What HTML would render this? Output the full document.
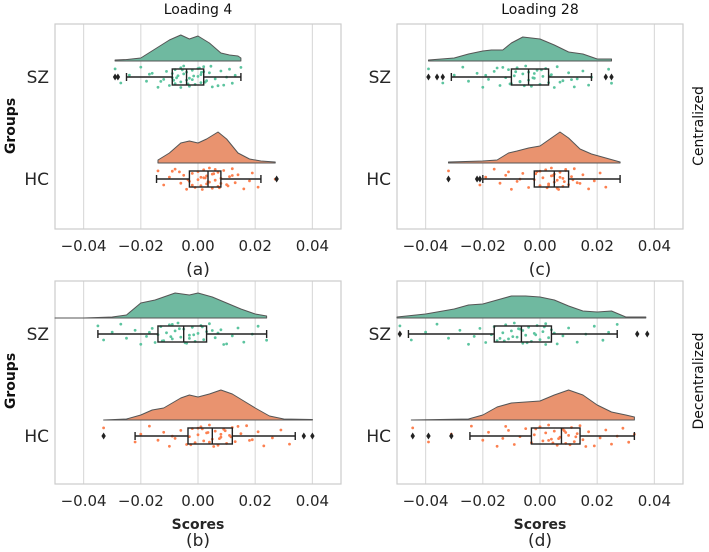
<!DOCTYPE html>
<html><head><meta charset="utf-8">
<style>
body{margin:0;background:#fff;width:709px;height:552px;overflow:hidden}
svg{display:block;font-family:"DejaVu Sans","Liberation Sans",sans-serif}
</style></head>
<body>
<svg id="fig" width="709" height="552" viewBox="0 0 709 552"></svg>
<script>
// ---- data ----
const tickValues = [-0.04, -0.02, 0.00, 0.02, 0.04];
const tickLabels = ["\u22120.04", "\u22120.02", "0.00", "0.02", "0.04"];
const groups = ["SZ", "HC"];

// density curves (grid x values / density heights)
const aSzX = [-0.029,-0.025,-0.02,-0.015,-0.01,-0.006,-0.003,0,0.004,0.008,0.011,0.014,0.015];
const aSzD = [1,1.5,3,12,21,26,22,25,18,8,6,5,3];
const aHcX = [-0.014,-0.01,-0.006,-0.003,0,0.003,0.007,0.01,0.014,0.018,0.022,0.027];
const aHcD = [3,10,20,22,20,24,31,24,10,4,2,1];
const cSzX = [-0.039,-0.03,-0.025,-0.02,-0.017,-0.013,-0.01,-0.006,0,0.005,0.01,0.015,0.02,0.025];
const cSzD = [1,3,7,10,11,11,18,24,22,16,9,7,2,2];
const cHcX = [-0.032,-0.02,-0.015,-0.011,-0.008,-0.004,0,0.004,0.007,0.01,0.014,0.018,0.023,0.028];
const cHcD = [1,2,3,10,12,15,17,25,31,25,14,9,5,1];
const bSzX = [-0.05,-0.04,-0.03,-0.025,-0.02,-0.015,-0.008,-0.003,0,0.005,0.01,0.015,0.02,0.024];
const bSzD = [0,0,1,3,15,18,25,23,25,21,15,9,4,2];
const bHcX = [-0.033,-0.025,-0.02,-0.016,-0.012,-0.006,-0.003,0,0.004,0.008,0.012,0.016,0.02,0.025,0.03,0.04];
const bHcD = [0,1,5,10,12,22,25,23,26,30,26,19,12,4,1,0.5];
const dSzX = [-0.05,-0.04,-0.03,-0.025,-0.02,-0.015,-0.01,-0.005,0,0.005,0.01,0.015,0.02,0.025,0.03,0.037];
const dSzD = [1,4,9,13,14,18,22,22,21,18,12,7,6,7,1,1];
const dHcX = [-0.045,-0.035,-0.025,-0.02,-0.015,-0.01,-0.005,0,0.005,0.01,0.015,0.02,0.025,0.03,0.033];
const dHcD = [0,0.5,1,5,13,17,18,19,25,30,25,15,8,5,3];

// box stats: [whiskerLow, q1, median, q3, whiskerHigh]
const aSzBox = [-0.025,-0.009,-0.004,0.002,0.015];
const aHcBox = [-0.0145,-0.003,0.0035,0.008,0.022];
const cSzBox = [-0.031,-0.010,-0.004,0.003,0.018];
const cHcBox = [-0.020,-0.002,0.005,0.010,0.028];
const bSzBox = [-0.035,-0.014,-0.005,0.003,0.024];
const bHcBox = [-0.022,-0.0035,0.005,0.012,0.034];
const dSzBox = [-0.046,-0.016,-0.0065,0.004,0.027];
const dHcBox = [-0.0245,-0.003,0.0075,0.014,0.033];

// outliers
const aSzOut = [-0.029,-0.028];
const aHcOut = [0.0275];
const cSzOut = [-0.039,-0.036,-0.034,0.023,0.025];
const cHcOut = [-0.032,-0.022,-0.021];
const bSzOut = [];
const bHcOut = [-0.033,0.037,0.040];
const dSzOut = [-0.049,0.034,0.0375];
const dHcOut = [-0.0445,-0.039,-0.031];

// raw points (scores)
const aSzPts = [-0.029,-0.027,-0.024,-0.02,-0.018,-0.016,-0.014,-0.012,-0.011,-0.01,-0.009,-0.008,-0.008,-0.007,-0.006,-0.006,-0.005,-0.005,-0.004,-0.004,-0.003,-0.003,-0.002,-0.001,0,0,0.001,0.001,0.002,0.003,0.004,0.005,0.006,0.008,0.009,0.01,0.011,0.012,0.013,0.015,-0.013,-0.009,-0.006,-0.002,0.002,0.007,-0.0075,-0.0055,-0.0035,-0.0015,0.0005,0.0025,-0.017,0.0045,-0.0085,0.0012];
const aHcPts = [-0.014,-0.012,-0.01,-0.008,-0.006,-0.005,-0.004,-0.003,-0.002,-0.001,0,0,0.001,0.002,0.002,0.003,0.003,0.004,0.004,0.005,0.005,0.006,0.007,0.007,0.008,0.009,0.01,0.011,0.012,0.013,0.014,0.016,0.018,0.019,0.021,0.027,-0.009,-0.002,0.001,0.006,0.008,0.012,0.0015,0.0035,0.0055,0.0075,-0.0035,-0.0065,0.0105,0.0025];
const cSzPts = [-0.039,-0.034,-0.03,-0.027,-0.025,-0.022,-0.02,-0.018,-0.016,-0.014,-0.012,-0.011,-0.01,-0.009,-0.008,-0.007,-0.006,-0.005,-0.004,-0.004,-0.003,-0.002,-0.001,0,0.001,0.002,0.003,0.004,0.006,0.008,0.01,0.012,0.013,0.015,0.017,0.018,0.024,0.025,-0.019,-0.013,-0.007,-0.002,0.005,0.011,-0.0085,-0.0055,-0.0025,0.0005,-0.0105,0.0035,-0.015,0.007];
const cHcPts = [-0.032,-0.021,-0.019,-0.016,-0.014,-0.012,-0.01,-0.008,-0.006,-0.004,-0.002,-0.001,0,0.001,0.002,0.003,0.004,0.004,0.005,0.005,0.006,0.006,0.007,0.008,0.008,0.009,0.01,0.011,0.012,0.013,0.015,0.017,0.019,0.021,0.023,-0.007,0.0,0.003,0.007,0.009,0.014,0.0045,0.0065,0.0085,-0.0015,0.0025,0.0115,-0.011];
const bSzPts = [-0.035,-0.033,-0.03,-0.027,-0.025,-0.022,-0.02,-0.018,-0.016,-0.015,-0.014,-0.013,-0.012,-0.011,-0.01,-0.009,-0.008,-0.007,-0.006,-0.005,-0.004,-0.003,-0.002,-0.001,0,0.001,0.002,0.003,0.004,0.006,0.008,0.01,0.012,0.014,0.016,0.019,0.021,0.024,-0.017,-0.009,-0.003,0.005,0.009,-0.0095,-0.0065,-0.0045,-0.0015,0.0015,-0.0125,0.007];
const bHcPts = [-0.033,-0.022,-0.02,-0.017,-0.014,-0.012,-0.01,-0.008,-0.006,-0.004,-0.003,-0.002,-0.001,0,0.001,0.002,0.003,0.004,0.005,0.006,0.007,0.008,0.009,0.01,0.011,0.012,0.013,0.015,0.017,0.019,0.021,0.023,0.026,0.029,0.032,-0.009,0.0,0.004,0.008,0.014,0.018,0.0035,0.0055,0.0075,0.0095,-0.0025,0.0115,0.0015];
const dSzPts = [-0.049,-0.045,-0.04,-0.036,-0.032,-0.028,-0.025,-0.023,-0.021,-0.019,-0.017,-0.016,-0.015,-0.013,-0.012,-0.011,-0.01,-0.009,-0.008,-0.007,-0.006,-0.005,-0.004,-0.003,-0.002,-0.001,0,0.001,0.002,0.003,0.004,0.006,0.008,0.01,0.013,0.016,0.019,0.022,0.024,0.027,-0.014,-0.006,0.002,-0.0095,-0.0075,-0.0045,-0.0015,0.0015,-0.0125,0.005];
const dHcPts = [-0.0445,-0.039,-0.031,-0.024,-0.02,-0.018,-0.015,-0.013,-0.011,-0.009,-0.007,-0.005,-0.003,-0.002,0,0.001,0.002,0.003,0.004,0.005,0.006,0.007,0.008,0.009,0.01,0.011,0.012,0.013,0.014,0.015,0.017,0.019,0.021,0.023,0.025,0.027,0.029,0.031,0.033,-0.012,0.003,0.009,0.016,0.0065,0.0085,0.0105,0.0125,-0.0015,0.0045];

// ---- drawing ----
const NS = "http://www.w3.org/2000/svg";
const svg = document.getElementById("fig");
function mk(tag, attrs, parent, name, inter) {
  const e = document.createElementNS(NS, tag);
  for (const k in attrs) e.setAttribute(k, attrs[k]);
  
  
  (parent || svg).appendChild(e);
  return e;
}
const XMIN = -0.05, XMAX = 0.05;
const panels = [
  {id:"a", x0:55, x1:341, y0:24, y1:229, sz:[aSzX,aSzD,aSzBox,aSzOut,aSzPts], hc:[aHcX,aHcD,aHcBox,aHcOut,aHcPts]},
  {id:"c", x0:397, x1:683, y0:24, y1:229, sz:[cSzX,cSzD,cSzBox,cSzOut,cSzPts], hc:[cHcX,cHcD,cHcBox,cHcOut,cHcPts]},
  {id:"b", x0:55, x1:341, y0:281, y1:484, sz:[bSzX,bSzD,bSzBox,bSzOut,bSzPts], hc:[bHcX,bHcD,bHcBox,bHcOut,bHcPts]},
  {id:"d", x0:397, x1:683, y0:281, y1:484, sz:[dSzX,dSzD,dSzBox,dSzOut,dSzPts], hc:[dHcX,dHcD,dHcBox,dHcOut,dHcPts]}
];
const fills = {SZ:"#6fb9a0", HC:"#e9936f"};
const ptCol = {SZ:"#5cc49f", HC:"#fc8050"};

panels.forEach(p => {
  const g = mk("g", {}, svg, "panel-" + p.id, false);
  const xs = v => p.x0 + (v - XMIN) / (XMAX - XMIN) * (p.x1 - p.x0);
  const rows = {SZ: p.y0 + 53, HC: p.y0 + 155};
  tickValues.forEach((t, i) => {
    mk("line", {x1:xs(t), x2:xs(t), y1:p.y0, y2:p.y1, stroke:"#dcdcdc", "stroke-width":1.2}, g, "grid-line", false);
    const tl = mk("text", {x:xs(t), y:p.y1 + 22, "text-anchor":"middle", "font-size":15, fill:"#262626"}, g, "x-tick-label", false);
    tl.textContent = tickLabels[i];
  });
  mk("rect", {x:p.x0, y:p.y0, width:p.x1 - p.x0, height:p.y1 - p.y0, fill:"none", stroke:"#cccccc", "stroke-width":1.2}, g, "plot-frame", false);
  groups.forEach(gr => {
    const t = mk("text", {x:p.x0 - 6, y:rows[gr] + 6, "text-anchor":"end", "font-size":17, fill:"#262626"}, g, "y-tick-label-" + gr.toLowerCase(), false);
    t.textContent = gr;
  });
  [["SZ", p.sz], ["HC", p.hc]].forEach(([gr, d]) => {
    const [dx, dd, box, out, pts] = d;
    const base = rows[gr] - 16;
    let path = "M" + xs(dx[0]) + "," + base;
    dx.forEach((v, i) => { path += " L" + xs(v).toFixed(1) + "," + (base - dd[i]).toFixed(1); });
    path += " L" + xs(dx[dx.length - 1]) + "," + base + " Z";
    mk("path", {d:path, fill:fills[gr], stroke:"#555", "stroke-width":1, "stroke-linejoin":"round"}, g, "density-" + gr.toLowerCase(), false);
    pts.forEach((v, i) => {
      const jy = rows[gr] + (((i * 7919 + 13) % 97) / 97 * 22 - 11);
      mk("circle", {cx:xs(v).toFixed(1), cy:jy.toFixed(1), r:1.4, fill:ptCol[gr]}, g, "point-" + gr.toLowerCase(), false);
    });
    const y = rows[gr];
    mk("line", {x1:xs(box[0]), x2:xs(box[1]), y1:y, y2:y, stroke:"#222", "stroke-width":1.4}, g, "whisker-low", false);
    mk("line", {x1:xs(box[3]), x2:xs(box[4]), y1:y, y2:y, stroke:"#222", "stroke-width":1.4}, g, "whisker-high", false);
    mk("line", {x1:xs(box[0]), x2:xs(box[0]), y1:y - 4, y2:y + 4, stroke:"#222", "stroke-width":1.4}, g, "whisker-cap", false);
    mk("line", {x1:xs(box[4]), x2:xs(box[4]), y1:y - 4, y2:y + 4, stroke:"#222", "stroke-width":1.4}, g, "whisker-cap", false);
    mk("rect", {x:xs(box[1]), y:y - 8, width:xs(box[3]) - xs(box[1]), height:16, fill:"none", stroke:"#222", "stroke-width":1.4}, g, "box-" + gr.toLowerCase(), false);
    mk("line", {x1:xs(box[2]), x2:xs(box[2]), y1:y - 8, y2:y + 8, stroke:"#222", "stroke-width":1.4}, g, "median-line", false);
    out.forEach(v => {
      mk("path", {d:`M${xs(v)},${y-3.5} L${xs(v)+2.2},${y} L${xs(v)},${y+3.5} L${xs(v)-2.2},${y} Z`, fill:"#222"}, g, "outlier", false);
    });
  });
  const cx = (p.x0 + p.x1) / 2;
  if (p.y0 < 100) {
    const lab = mk("text", {x:cx, y:p.y1 + 46, "text-anchor":"middle", "font-size":17, fill:"#262626"}, g, "panel-label", false);
    lab.textContent = "(" + p.id + ")";
  } else {
    const sx = mk("text", {x:cx, y:p.y1 + 45, "text-anchor":"middle", "font-size":14, "font-weight":"bold", fill:"#262626"}, g, "x-axis-title", false);
    sx.textContent = "Scores";
    const lab = mk("text", {x:cx, y:p.y1 + 62, "text-anchor":"middle", "font-size":17, fill:"#262626"}, g, "panel-label", false);
    lab.textContent = "(" + p.id + ")";
  }
});
function txt(s, attrs, name) { const t = mk("text", attrs, svg, name, false); t.textContent = s; }
txt("Loading 4", {x:198, y:14, "text-anchor":"middle", "font-size":14, fill:"#111"}, "column-title-loading-4");
txt("Loading 28", {x:540, y:14, "text-anchor":"middle", "font-size":14, fill:"#111"}, "column-title-loading-28");
txt("Groups", {x:15, y:126, "text-anchor":"middle", "font-size":14, "font-weight":"bold", fill:"#111", transform:"rotate(-90 15 126)"}, "y-axis-title");
txt("Groups", {x:15, y:381, "text-anchor":"middle", "font-size":14, "font-weight":"bold", fill:"#111", transform:"rotate(-90 15 381)"}, "y-axis-title");
txt("Centralized", {x:703, y:126, "text-anchor":"middle", "font-size":14, fill:"#111", transform:"rotate(-90 703 126)"}, "row-title-centralized");
txt("Decentralized", {x:703, y:381, "text-anchor":"middle", "font-size":14, fill:"#111", transform:"rotate(-90 703 381)"}, "row-title-decentralized");
</script>
</body></html>
